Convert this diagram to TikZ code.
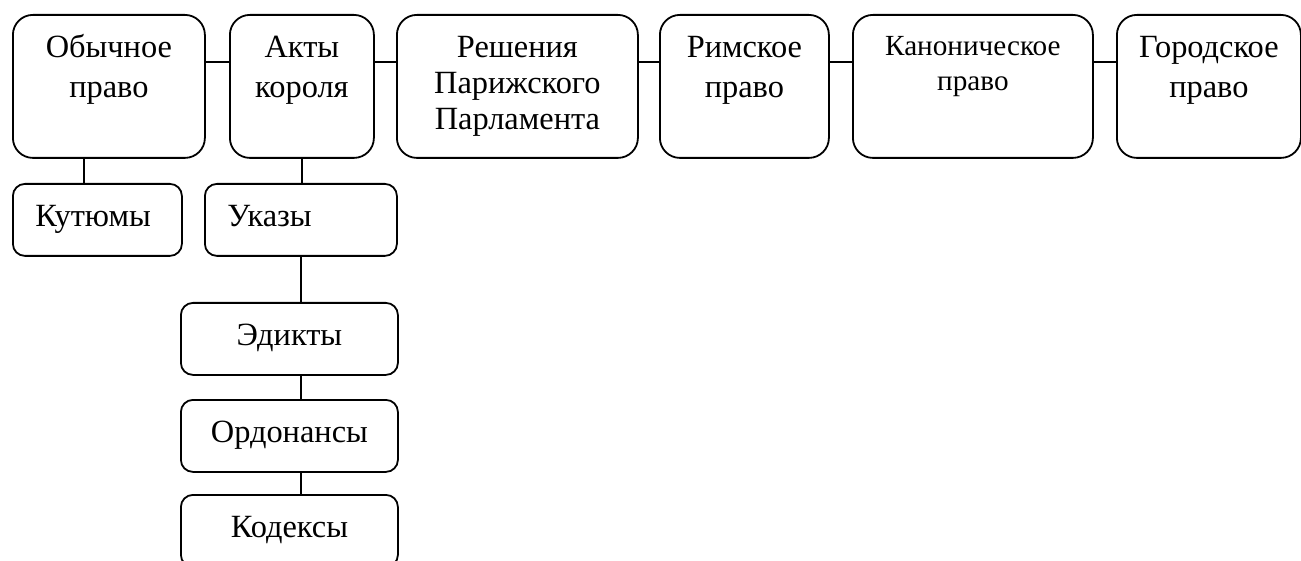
\documentclass[tikz,border=0pt]{standalone}
\usepackage{fontspec}
\setmainfont{Liberation Serif}
\usetikzlibrary{positioning}

\tikzset{
	box/.style={draw, line width=0.9pt, rounded corners=10pt, minimum height=71.5pt, inner sep=0pt, anchor=north west},
	smallbox/.style={box, rounded corners=6pt, minimum height=36pt},
	lbl/.style={inner sep=0pt, align=center, font=\fontsize{16.2}{20}\selectfont},
	link/.style={line width=0.9pt},
}

\begin{document}
\begin{tikzpicture}[x=0.5pt, y=-0.5pt]

\def\hy{24pt}

\path [use as bounding box] (0,0) rectangle (1301,561);

% TOP ROW
\node [box, minimum width=96pt] (obych) at (12,14) {};
\node [box, minimum width=72pt] (akty) at (229,14) {};
\node [box, minimum width=120.5pt] (resh) at (396,14) {};
\node [box, minimum width=84.5pt] (rim) at (659,14) {};
\node [box, minimum width=120pt] (kanon) at (852,14) {};
\node [box, minimum width=92pt] (gorod) at (1116,14) {};

\node [lbl, below=7.5pt of obych.north] {\strut Обычное\\право};
\node [lbl, below=7.5pt of akty.north] {\strut Акты\\короля};
\node [lbl, font=\fontsize{16.2}{18}\selectfont, below=8.75pt of resh.north] {\strut Решения\\Парижского\\Парламента};
\node [lbl, below=7.5pt of rim.north] {\strut Римское\\право};
\node [lbl, font=\fontsize{14.6}{17.5}\selectfont, below=8.25pt of kanon.north] {\strut Каноническое\\право};
\node [lbl, below=7.5pt of gorod.north] {\strut Городское\\право};

% SUB BOXES
\node [smallbox, minimum width=84.5pt] (kutyum) at (12,183) {};
\node [smallbox, minimum width=96pt] (ukazy) at (204,183) {};
\node [smallbox, minimum width=108.5pt] (edikty) at (180,302) {};
\node [smallbox, minimum width=108.5pt] (ordon) at (180,399) {};
\node [smallbox, minimum width=108.5pt] (kodex) at (180,494) {};

\node [lbl, anchor=north west, below right=7.5pt and 11.5pt of kutyum.north west] {\strut Кутюмы};
\node [lbl, anchor=north west, below right=7.5pt and 11.5pt of ukazy.north west] {\strut Указы};
\node [lbl, below=7.5pt of edikty.north] {\strut Эдикты};
\node [lbl, below=7.5pt of ordon.north] {\strut Ордонансы};
\node [lbl, below=7.5pt of kodex.north] {\strut Кодексы};

% LINKS
\draw [link] ([yshift=-\hy]obych.north east) -- ([yshift=-\hy]akty.north west);
\draw [link] ([yshift=-\hy]akty.north east) -- ([yshift=-\hy]resh.north west);
\draw [link] ([yshift=-\hy]resh.north east) -- ([yshift=-\hy]rim.north west);
\draw [link] ([yshift=-\hy]rim.north east) -- ([yshift=-\hy]kanon.north west);
\draw [link] ([yshift=-\hy]kanon.north east) -- ([yshift=-\hy]gorod.north west);

\draw [link] ([xshift=36pt]obych.south west) -- ([xshift=36pt]kutyum.north west);
\draw [link] (akty.south) -- (akty.south |- ukazy.north);
\draw [link] (ukazy.south) -- (ukazy.south |- edikty.north);
\draw [link] (edikty.south -| ukazy.south) -- (ordon.north -| ukazy.south);
\draw [link] (ordon.south -| ukazy.south) -- (kodex.north -| ukazy.south);

\end{tikzpicture}
\end{document}
